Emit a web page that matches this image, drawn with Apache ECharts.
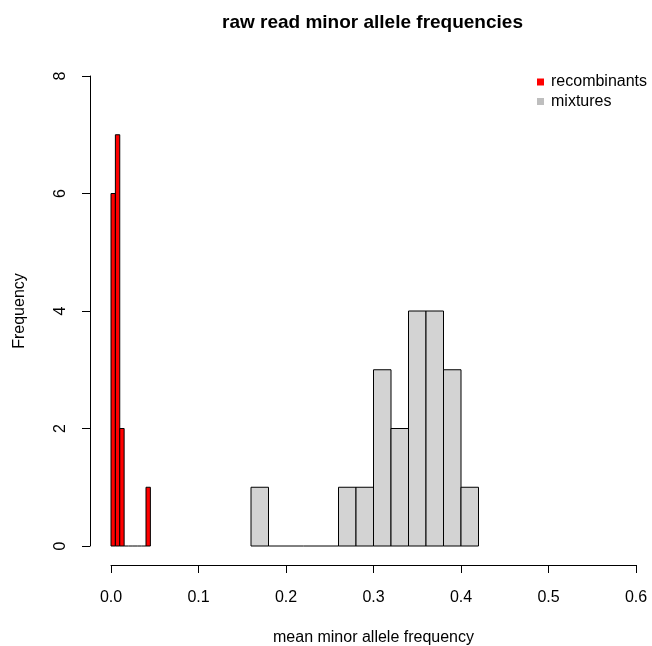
<!DOCTYPE html>
<html>
<head>
<meta charset="utf-8">
<script src="https://cdn.jsdelivr.net/npm/echarts@6/dist/echarts.min.js"></script>
<style>html,body{margin:0;padding:0;background:#fff}#c{width:652px;height:646px}</style>
</head>
<body>
<div id="c"></div>
<script>
// Recombinants histogram: bin edges and counts
const recombLeft  = [0.000, 0.005, 0.010, 0.015, 0.020, 0.025, 0.030, 0.035, 0.040];
const recombRight = [0.005, 0.010, 0.015, 0.020, 0.025, 0.030, 0.035, 0.040, 0.045];
const recombCounts = [6, 7, 2, 0, 0, 0, 0, 0, 1];
// Mixtures histogram: bin edges and counts
const mixLeft  = [0.16, 0.18, 0.20, 0.22, 0.24, 0.26, 0.28, 0.30, 0.32, 0.34, 0.36, 0.38, 0.40];
const mixRight = [0.18, 0.20, 0.22, 0.24, 0.26, 0.28, 0.30, 0.32, 0.34, 0.36, 0.38, 0.40, 0.42];
const mixCounts = [1, 0, 0, 0, 0, 1, 1, 3, 2, 4, 4, 3, 1];
// Axis ticks
const xTicks = ['0.0', '0.1', '0.2', '0.3', '0.4', '0.5', '0.6'];
const yTicks = ['0', '2', '4', '6', '8'];

const FONT = 'Liberation Sans, Arial, sans-serif';

function toData(l, r, c) { return c.map((v, i) => [l[i], r[i], v]); }

function renderHist(fill) {
  return function (params, api) {
    const x0 = api.value(0), x1 = api.value(1), n = api.value(2);
    const p0 = api.coord([x0, 0]);
    const p1 = api.coord([x1, n]);
    if (n === 0) {
      return { type: 'line', shape: { x1: p0[0], y1: p0[1], x2: p1[0], y2: p0[1] },
        style: { stroke: '#000', lineWidth: 1 } };
    }
    return {
      type: 'rect',
      shape: { x: p0[0], y: p1[1], width: p1[0] - p0[0], height: p0[1] - p1[1] },
      style: { fill: fill, stroke: '#000', lineWidth: 1 }
    };
  };
}

const chart = echarts.init(document.getElementById('c'), null, { renderer: 'canvas' });
chart.setOption({
  animation: false,
  backgroundColor: '#fff',
  title: {
    text: 'raw read minor allele frequencies',
    left: 217, top: 8,
    textStyle: { fontFamily: FONT, fontSize: 19, fontWeight: 'bold', color: '#000' }
  },
  legend: {
    orient: 'vertical', left: 532, top: 69,
    icon: 'rect', itemWidth: 7, itemHeight: 7, itemGap: 3.5,
    textStyle: { fontFamily: FONT, fontSize: 16, color: '#000', lineHeight: 16, padding: [0, 0, 0, 2] },
    data: [
      { name: 'recombinants', itemStyle: { color: '#ff0000', borderWidth: 0 } },
      { name: 'mixtures', itemStyle: { color: '#bebebe', borderWidth: 0 } }
    ]
  },
  grid: { left: 111, right: 16, top: 76, bottom: 100, containLabel: false, outerBoundsMode: 'none' },
  xAxis: {
    type: 'value', min: 0, max: 0.6, interval: 0.1, offset: 19,
    name: 'mean minor allele frequency', nameLocation: 'middle', nameGap: 65,
    nameTextStyle: { fontFamily: FONT, fontSize: 16, color: '#000' },
    axisLine: { show: true, onZero: false, lineStyle: { color: '#000', width: 1 } },
    axisTick: { show: true, length: 8, lineStyle: { color: '#000' } },
    axisLabel: { fontFamily: FONT, fontSize: 16, color: '#000', margin: 25,
      formatter: (v) => xTicks[Math.round(v * 10)] },
    splitLine: { show: false }
  },
  yAxis: {
    type: 'value', min: 0, max: 8, interval: 2, offset: 21,
    name: 'Frequency', nameLocation: 'middle', nameGap: 62, nameRotate: 90,
    nameTextStyle: { fontFamily: FONT, fontSize: 16, color: '#000' },
    axisLine: { show: true, onZero: false, lineStyle: { color: '#000', width: 1 } },
    axisTick: { show: true, length: 8, lineStyle: { color: '#000' } },
    axisLabel: { fontFamily: FONT, fontSize: 16, color: '#000', margin: 21, rotate: 90,
      formatter: (v) => yTicks[Math.round(v / 2)] },
    splitLine: { show: false }
  },
  series: [
    { name: 'recombinants', type: 'custom', renderItem: renderHist('#ff0000'),
      itemStyle: { color: '#ff0000' }, encode: { x: [0, 1], y: 2 },
      data: toData(recombLeft, recombRight, recombCounts), z: 3 },
    { name: 'mixtures', type: 'custom', renderItem: renderHist('#d3d3d3'),
      itemStyle: { color: '#bebebe' }, encode: { x: [0, 1], y: 2 },
      data: toData(mixLeft, mixRight, mixCounts), z: 2 }
  ]
});
</script>
</body>
</html>
